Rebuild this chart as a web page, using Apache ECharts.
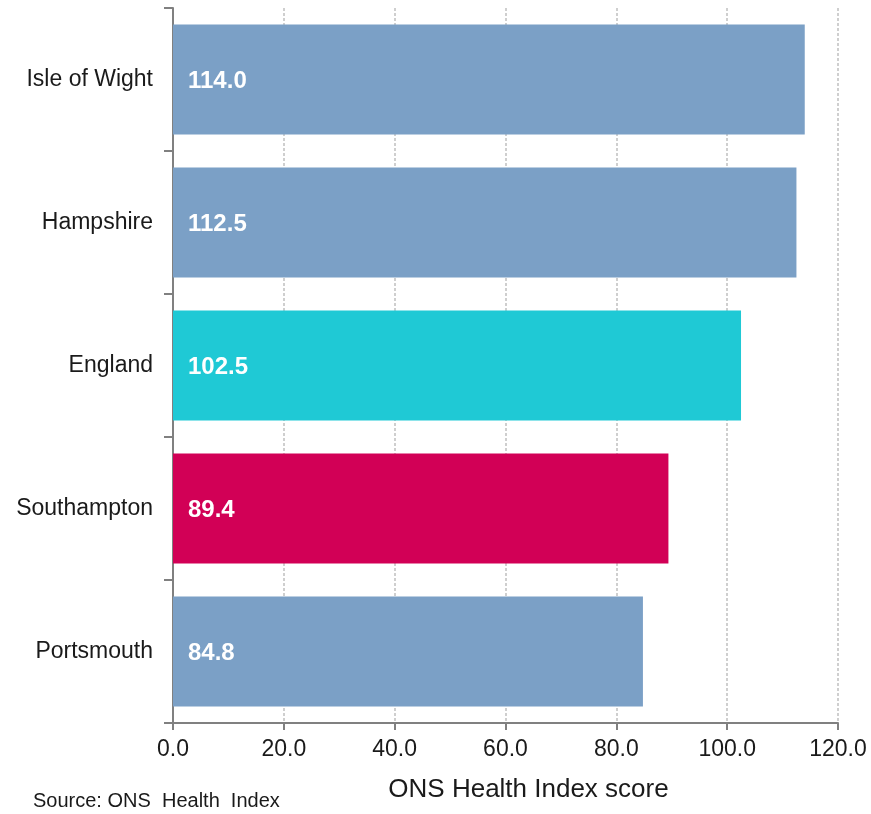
<!DOCTYPE html>
<html>
<head>
<meta charset="utf-8">
<script src="https://cdn.jsdelivr.net/npm/echarts@6/dist/echarts.min.js"></script>
<style>
  html, body { margin: 0; padding: 0; background: #fff; }
  #chart { width: 871px; height: 814px; }
</style>
</head>
<body>
<div id="chart"></div>
<script>
// Areas, listed bottom-to-top for the category axis
const areas = ['Portsmouth', 'Southampton', 'England', 'Hampshire', 'Isle of Wight'];
const scores = [84.8, 89.4, 102.5, 112.5, 114.0];
const barColors = ['#7BA0C6', '#D20056', '#1FC9D5', '#7BA0C6', '#7BA0C6'];
const xTicks = [0, 20, 40, 60, 80, 100, 120];

const chart = echarts.init(document.getElementById('chart'));
const font = "'Liberation Sans', Arial, sans-serif";

chart.setOption({
  animation: false,
  grid: { left: 173, right: 33, top: 8, bottom: 91, containLabel: false },
  xAxis: {
    type: 'value',
    min: xTicks[0],
    max: xTicks[xTicks.length - 1],
    interval: 20,
    axisLine: { show: true, lineStyle: { color: '#808080', width: 2 } },
    axisTick: { show: true, length: 7, lineStyle: { color: '#808080', width: 2 } },
    axisLabel: {
      formatter: v => v.toFixed(1),
      color: '#1a1a1a', fontFamily: font, fontSize: 23, margin: 15
    },
    splitLine: { show: true, lineStyle: { color: '#cfcfcf', type: [3, 2], width: 2 } },
    name: 'ONS Health Index score',
    nameLocation: 'middle',
    nameGap: 54,
    nameTextStyle: { color: '#1a1a1a', fontFamily: font, fontSize: 26, padding: [0, 0, 0, 46] }
  },
  yAxis: {
    type: 'category',
    data: areas,
    axisLine: { show: true, lineStyle: { color: '#808080', width: 2 } },
    axisTick: { show: true, length: 9, lineStyle: { color: '#808080', width: 2 } },
    axisLabel: { color: '#1a1a1a', fontFamily: font, fontSize: 23, margin: 20 },
    splitLine: { show: false }
  },
  series: [{
    type: 'bar',
    data: scores.map((v, i) => ({ value: v, itemStyle: { color: barColors[i] } })),
    barCategoryGap: '23%',
    label: {
      show: true,
      position: 'insideLeft',
      distance: 15,
      offset: [0, 2],
      formatter: p => p.value.toFixed(1),
      color: '#fff',
      fontFamily: font,
      fontWeight: 'bold',
      fontSize: 24
    }
  }],
  graphic: [{
    type: 'text',
    left: 33,
    top: 791,
    style: { text: 'Source: ONS  Health  Index', fill: '#1a1a1a', font: "20px 'Liberation Sans', Arial, sans-serif" }
  }]
});
</script>
</body>
</html>
